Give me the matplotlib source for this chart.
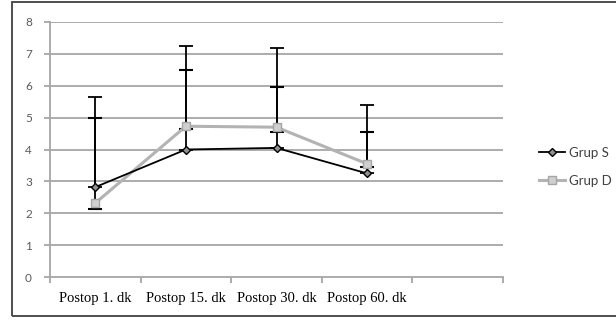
import matplotlib
matplotlib.use("Agg")
import matplotlib.pyplot as plt
from matplotlib.patches import Rectangle
import numpy as np

categories = ["Postop 1. dk", "Postop 15. dk", "Postop 30. dk", "Postop 60. dk", ""]
grup_s = [2.82, 4.00, 4.05, 3.25]
grup_d = [2.32, 4.73, 4.70, 3.55]
err_s_plus = [2.82, 3.24, 3.13, 2.14]
err_d_plus = [2.66, 1.76, 1.26, 1.00]
err_d_minus = [0.20, 0.10, 0.15, 0.10]
yticks = [0, 1, 2, 3, 4, 5, 6, 7, 8]

W, H = 616, 321
fig = plt.figure(figsize=(W / 100, H / 100), dpi=100)
ax = fig.add_axes([50 / W, 1 - 277 / H, 453 / W, 255 / H])

x = np.arange(len(grup_s))
grid_c = "#a6a6a6"
for yv in yticks[1:]:
    ax.axhline(yv, color=grid_c, lw=1.3, zorder=1)

# error bars
ax.errorbar(x, grup_s, yerr=[np.zeros(len(grup_s)), err_s_plus], fmt="none",
            ecolor="black", elinewidth=1.3, capsize=5, capthick=1.3, zorder=3)
ax.errorbar(x, grup_d, yerr=[err_d_minus, err_d_plus], fmt="none",
            ecolor="black", elinewidth=1.3, capsize=5, capthick=1.5, zorder=3)

ax.plot(x, grup_d, color="#b3b3b3", lw=2.2, marker="s", markersize=5.5,
        markerfacecolor="#cfcfcf", markeredgecolor="#a6a6a6", label="Grup D", zorder=4)
ax.plot(x, grup_s, color="black", lw=1.3, marker="D", markersize=4.5,
        markerfacecolor="#909090", markeredgecolor="black", label="Grup S", zorder=5)

ax.set_xlim(-0.5, len(categories) - 0.5)
ax.set_ylim(0, 8)
ax.set_yticks(yticks)
ax.set_yticklabels([str(v) for v in yticks], fontsize=8.5, color="#595959",
                   family=["Lato", "DejaVu Sans"])
ax.set_xticks(np.arange(len(categories)))
ax.set_xticklabels(categories, fontsize=10.5, color="black",
                   family=["Liberation Serif", "DejaVu Serif"])
ax.set_xticks(np.arange(len(categories) + 1) - 0.5, minor=True)
ax.tick_params(axis="x", which="major", length=0, pad=11)
ax.tick_params(axis="x", which="minor", length=4, color=grid_c, width=1.3, direction="out")
ax.tick_params(axis="y", length=4, color=grid_c, width=1.3, direction="out", pad=9)
for s in ["top", "right"]:
    ax.spines[s].set_visible(False)
for s in ["left", "bottom"]:
    ax.spines[s].set_color(grid_c)
    ax.spines[s].set_linewidth(1.3)

h, l = ax.get_legend_handles_labels()
leg = fig.legend(h[::-1], l[::-1], loc="center left", bbox_to_anchor=(527 / W, 1 - 167 / H),
                 frameon=False, handlelength=2.0, handletextpad=0.25,
                 labelspacing=1.2, prop={"family": ["Lato", "DejaVu Sans"], "size": 9.5})
for t in leg.get_texts():
    t.set_color("#404040")

fig.patches.append(Rectangle((12 / W, 5 / H), 1.2, 1 - 7 / H, transform=fig.transFigure,
                             fill=False, edgecolor="#404040", lw=1.3))

fig.savefig("out.png", dpi=100)
